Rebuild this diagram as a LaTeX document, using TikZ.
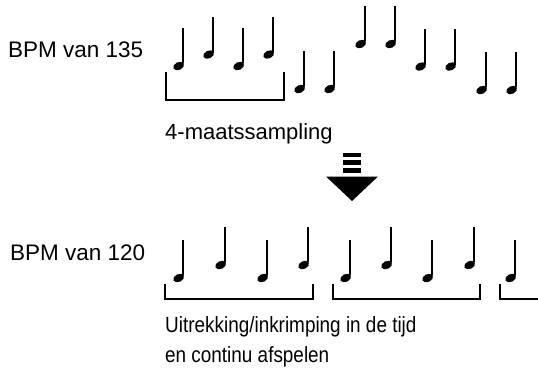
\documentclass[tikz,border=0pt]{standalone}
\usepackage{fontspec}
\setmainfont{Liberation Sans}
\newfontfamily\condfont[FakeStretch=0.86]{Liberation Sans}
\begin{document}
\begin{tikzpicture}[x=1pt,y=-1pt,
  quarter/.pic={
    \fill[rotate=25] (-4.8,0) ellipse [x radius=5.7pt, y radius=3.9pt];
    \draw[line width=1.8pt] (0,-1) -- (0,-36);
  },
  brk/.style={line width=2.6pt, line join=miter},
  lbl/.style={inner sep=0pt, anchor=base west, font=\fontsize{22.5}{26}\selectfont},
  captext/.style={inner sep=0pt, anchor=base west, font=\fontsize{22}{30}\selectfont},
  condtext/.style={inner sep=0pt, anchor=base west, align=left, font=\condfont\fontsize{22}{30}\selectfont}
]
\useasboundingbox (0,0) rectangle (538,367);

% labels
\node[lbl] (bpm135) at (8,57) {BPM van 135};
\node[lbl] (bpm120) at (10,260) {BPM van 120};
\node[captext] (sampling) at (165,139) {4-maatssampling};
\node[condtext] (stretch1) at (165,332) {Uitrekking/inkrimping in de tijd};
\node[condtext] (stretch2) at (165,362) {en continu afspelen};

% top row notes
\foreach \x/\y in {183/64,213/52.5,243/64,273/52.5,304/87,334/87,365/42,395/42,425/64.5,455/64.5,486/88,516/88}
  \pic at (\x,\y) {quarter};

% top bracket
\draw[brk] (166,72) -- (166,100) -- (284,100) -- (284,72);

% arrow
\fill (343,153) rectangle (361,157);
\fill (343,160) rectangle (361,164.5);
\fill (343,167.5) rectangle (361,172.5);
\fill (326,176.5) -- (378,176.5) -- (352,201) -- cycle;

% bottom row notes
\foreach \x/\y in {183/276,225/263,267/276,308/263,350/276,391/263,432/276,474/263,515/276}
  \pic at (\x,\y) {quarter};

% bottom brackets
\draw[brk] (165,284) -- (165,299) -- (313,299) -- (313,284);
\draw[brk] (333,284) -- (333,299) -- (480,299) -- (480,284);
\draw[brk] (500,284) -- (500,299) -- (539,299);
\end{tikzpicture}
\end{document}
